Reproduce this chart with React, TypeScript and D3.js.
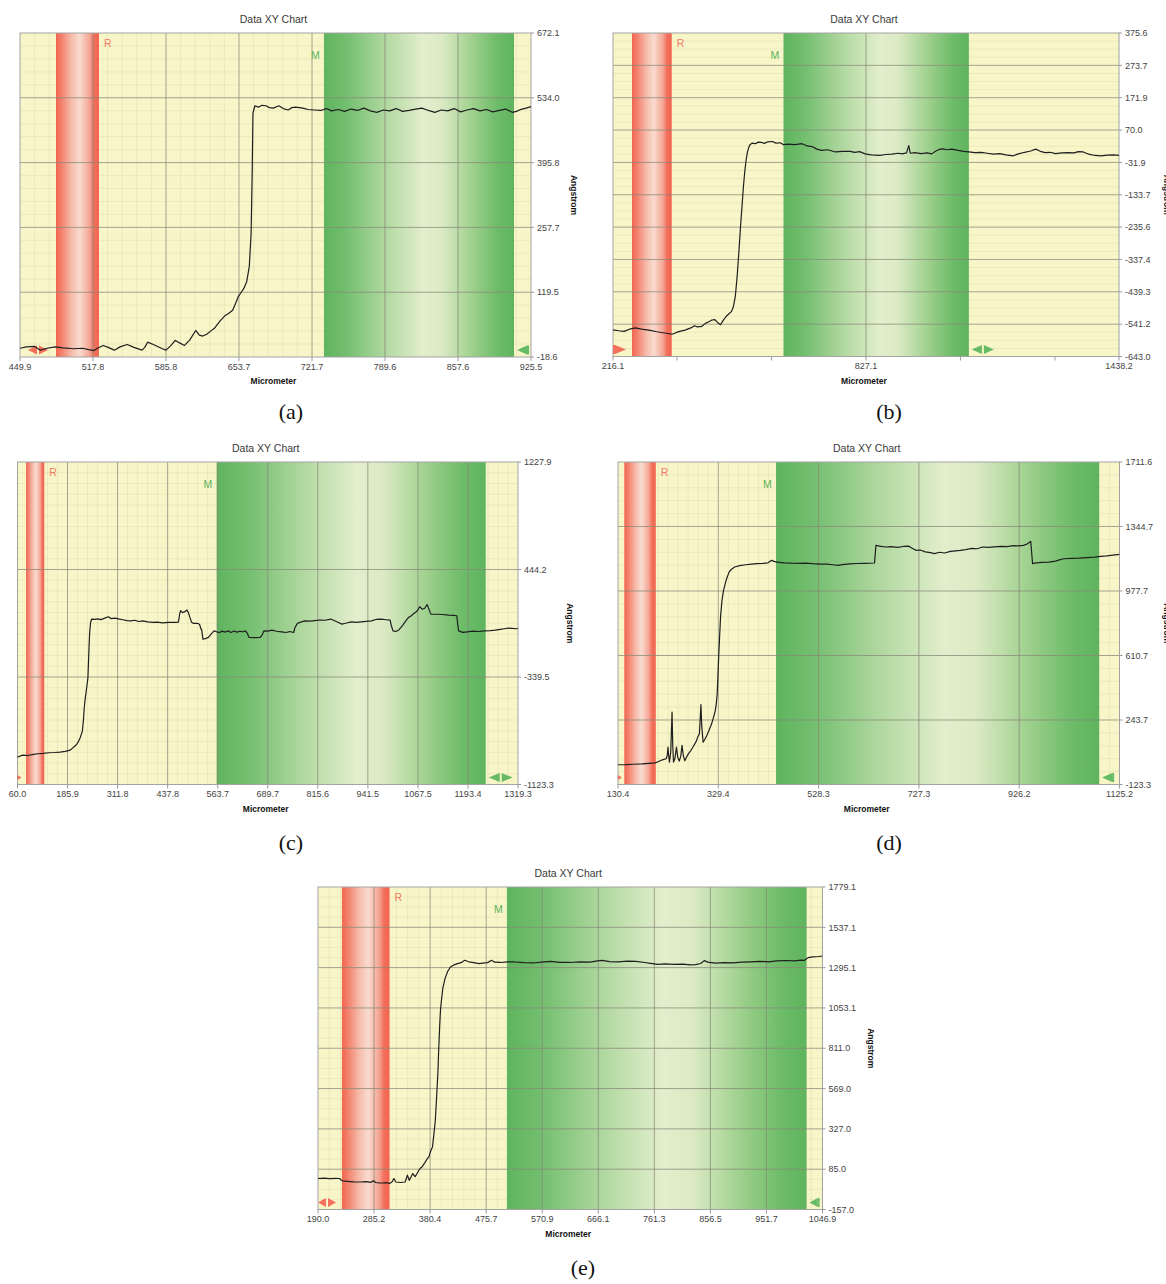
import React from "react";
import * as d3 from "d3";

// ---------------- data ----------------
const xTicksA = [449.9, 517.8, 585.8, 653.7, 721.7, 789.6, 857.6, 925.5];
const yTicksA = [-18.6, 119.5, 257.7, 395.8, 534.0, 672.1];
const refBandA = [483.4, 523.4];
const measBandA = [732.8, 909.7];
const profileA: [number, number][] = [
  [449.9, 0], [456, 3], [463.7, 4], [468.8, -4], [475, 0], [482.6, 3], [490, 1], [499.8, -1], [508, 0], [514, -3],
  [518.7, -5], [522, 0], [527.3, 6], [532, 2], [537.7, -4], [543, 3], [549.7, 8], [556, 2], [563.5, -4], [566, 2],
  [568.7, 13], [574, 8], [582.4, -1], [585.8, -4], [590, 5], [594.4, 17], [598, 12], [603, 6], [608, 18], [613.4, 38],
  [616.8, 28], [620, 26], [623.7, 30], [627, 36], [630.6, 42], [636, 58], [640.9, 70], [644, 74], [647.8, 81], [651, 98],
  [653, 110], [656, 120], [658.1, 127], [660.9, 142], [663.3, 174], [665, 245], [666.1, 387], [666.7, 501], [668.5, 517],
  [671.9, 514], [675, 518], [678.8, 517], [682, 513], [685.7, 512], [690.8, 517], [695, 511], [699.4, 508], [703, 513],
  [706.3, 514], [713.2, 512], [718, 509], [723.5, 508], [730, 507], [735, 511], [740, 506], [746, 509], [752, 505],
  [758, 510], [764, 507], [770, 512], [776, 506], [782, 503], [788, 508], [794, 506], [800, 511], [806, 505], [812, 507],
  [818, 510], [824, 512], [830, 507], [836, 503], [842, 508], [848, 506], [854, 511], [860, 504], [866, 508], [872, 511],
  [878, 506], [884, 509], [890, 504], [896, 507], [902, 510], [908, 503], [912, 505], [917, 510], [921, 512], [925.5, 515],
];

const xTicksB = [216.1, 827.1, 1438.2];
const xMinorTicksB = [370.7, 598.9, 1055.3, 1283.5];
const yTicksB = [-643.0, -541.2, -439.3, -337.4, -235.6, -133.7, -31.9, 70.0, 171.9, 273.7, 375.6];
const refBandB = [262, 357.9];
const measBandB = [627.9, 1075.6];
const profileB: [number, number][] = [
  [216.1, -559], [230, -562], [243, -564], [256, -557], [269.8, -553], [285, -557], [305.6, -561], [322, -565],
  [341.4, -569], [359.3, -573], [368, -568], [377.2, -564], [390, -560], [404, -553], [413, -546], [420, -550],
  [430.9, -548], [440, -538], [448.9, -533], [455, -528], [462.3, -527], [468, -535], [475.7, -543], [482, -530],
  [489.1, -517], [495, -510], [502.6, -501], [507, -485], [511.5, -454], [516, -390], [520.5, -307], [524, -235],
  [527.7, -170], [531, -110], [534, -65], [537.5, -25], [541.1, 3], [546, 22], [551.8, 29], [560, 27], [567, 32],
  [574.2, 31], [582, 28], [590, 33], [601.1, 34], [610, 29], [620, 30], [628, 24], [640, 26], [655, 24], [672.7, 27],
  [685, 20], [697, 18], [708.5, 10], [720, 6], [735, 8], [753.3, 1], [770, 3], [789.1, 3], [800, 0], [812, 2],
  [824.9, -5], [840, -8], [860.7, -10], [875, -7], [890, -6], [905, -3], [914.4, -5], [925, -2], [930.5, 21], [934, -3],
  [945, -1], [960, -4], [975, -2], [986, -5], [995, 3], [1004, 9], [1012.9, 11], [1022, 8], [1035, 10], [1050, 6],
  [1063, 3], [1075.6, 1], [1090, -1], [1105, 0], [1120, -3], [1135, -6], [1150, -4], [1165, -8], [1183, -11],
  [1195, -5], [1210, 0], [1225, 4], [1237, 10], [1248, 3], [1260, -1], [1272, 0], [1285, -4], [1300, -2], [1315, -1],
  [1330, -2], [1340, 2], [1352, 1], [1365, -6], [1380, -10], [1395, -11], [1410, -9], [1425, -8], [1438.2, -10],
];

const xTicksC = [60.0, 185.9, 311.8, 437.8, 563.7, 689.7, 815.6, 941.5, 1067.5, 1193.4, 1319.3];
const yTicksC = [-1123.3, -339.5, 444.2, 1227.9];
const refBandC = [81.4, 127.4];
const measBandC = [561, 1238.1];
const profileC: [number, number][] = [
  [60, -924], [67, -915], [74, -909], [85, -912], [97, -905], [111, -899], [125, -897], [139, -892], [153, -890],
  [167, -887], [180, -882], [190.6, -875], [197, -862], [204.6, -843], [210, -825], [213.9, -807], [218, -780],
  [223.2, -734], [226, -650], [228, -560], [230.7, -490], [234, -420], [237.2, -344], [239, -200], [240.5, -80],
  [241.9, -3], [244, 60], [246.6, 83], [255, 80], [262, 84], [270, 79], [278, 88], [288.5, 100], [296, 86], [305, 90],
  [316.5, 83], [325, 78], [335, 72], [344.5, 70], [355, 74], [365, 65], [375, 70], [388, 62], [400.5, 58], [412, 60],
  [425, 55], [440, 59], [456.4, 58], [465, 60], [468, 120], [470.4, 144], [475, 130], [480, 135], [486.3, 149],
  [490, 130], [493.8, 95], [498, 60], [503.1, 51], [512, 52], [518, 45], [521, 15], [523.6, 2], [526.5, -63], [533, -60],
  [540.4, -51], [546, -30], [554.4, -3], [561, -10], [568.4, -15], [575, -5], [583, -12], [590, -3], [597, -15],
  [605, -4], [612, -12], [620, -6], [627, -10], [633.6, -3], [638, -20], [642.9, -51], [656, -53], [670.9, -51],
  [676, -30], [680.2, -3], [690, -5], [700, 2], [712, -6], [724, -10], [736.3, -15], [745, -8], [755, -15], [758, 20],
  [764.3, 51], [772, 60], [783, 70], [795, 68], [808, 72], [820, 76], [834, 74], [848.2, 83], [858, 70], [866, 60],
  [876.2, 46], [888, 54], [900, 62], [913, 58], [925, 62], [937, 66], [950.8, 70], [962, 80], [975, 82], [988, 78],
  [997.5, 75], [1001, 30], [1004.9, -3], [1012, -8], [1020, 5], [1030, 40], [1037, 70], [1044, 95], [1050, 105],
  [1058, 125], [1065, 140], [1072, 173], [1078, 155], [1084, 160], [1090.7, 188], [1096, 150], [1100, 119],
  [1115, 118], [1130, 116], [1145, 112], [1158, 110], [1165.4, 107], [1168, 30], [1170, -3], [1180, -14], [1192, -10],
  [1205, -5], [1220, -8], [1235, -3], [1250, -2], [1262, 2], [1275, 8], [1285, 12], [1295.9, 17], [1305, 15],
  [1314.6, 12], [1319.3, 14],
];

const xTicksD = [130.4, 329.4, 528.3, 727.3, 926.2, 1125.2];
const yTicksD = [-123.3, 243.7, 610.7, 977.7, 1344.7, 1711.6];
const refBandD = [142.9, 205.3];
const measBandD = [443.9, 1084.8];
const profileD: [number, number][] = [
  [130.4, -11], [145, -10], [160, -8], [178, -6], [192, -3], [203.8, 0], [210, 6], [214.8, 13], [220, 18],
  [225.8, 23], [228, 40], [229.5, 89], [231, 40], [232.5, 4], [235, 60], [237.6, 289], [239, 100], [240.5, 4],
  [243, 20], [246.4, 89], [249, 30], [252, 10], [255, 40], [257.4, 99], [260, 40], [263, 12], [266, 30], [269.9, 51],
  [275, 70], [280.9, 99], [286, 125], [289, 150], [291.9, 165], [293.5, 250], [294.9, 332], [296.5, 210], [299.2, 118],
  [302, 130], [306.6, 156], [311, 185], [316.1, 222], [320, 260], [323.5, 298], [325.5, 340], [327.2, 393],
  [328.7, 500], [330.1, 602], [332, 720], [333.8, 829], [336.5, 920], [339.7, 981], [345, 1040], [350.7, 1085],
  [355, 1100], [361.7, 1114], [372, 1122], [383.7, 1127], [395, 1130], [405.7, 1133], [418, 1135], [428, 1138],
  [435.1, 1152], [440, 1146], [446.1, 1142], [460, 1138], [475, 1136], [490, 1135], [503, 1136], [515.8, 1133],
  [530, 1131], [545, 1130], [556, 1127], [567.2, 1123], [575, 1128], [590, 1132], [605, 1134], [620, 1135],
  [639.2, 1137], [642.1, 1237], [652, 1232], [662, 1228], [672, 1230], [685, 1226], [696, 1231], [706.7, 1233],
  [713, 1222], [721.4, 1209], [730, 1211], [740, 1200], [750, 1196], [758.1, 1190], [768, 1198], [778, 1194],
  [790, 1203], [800, 1206], [809.6, 1209], [820, 1213], [832, 1220], [843, 1218], [853.7, 1228], [865, 1226],
  [877, 1229], [890, 1232], [902, 1230], [915, 1236], [925, 1234], [934.4, 1237], [942, 1245], [949.1, 1260],
  [952.8, 1133], [960, 1138], [972, 1140], [985, 1142], [998, 1148], [1006, 1155], [1014.9, 1161], [1030, 1163],
  [1045, 1165], [1060, 1168], [1075, 1170], [1088.5, 1175], [1100, 1177], [1112, 1182], [1125.2, 1186],
];

const xTicksE = [190.0, 285.2, 380.4, 475.7, 570.9, 666.1, 761.3, 856.5, 951.7, 1046.9];
const yTicksE = [-157.0, 85.0, 327.0, 569.0, 811.0, 1053.1, 1295.1, 1537.1, 1779.1];
const refBandE = [230.7, 311.5];
const measBandE = [510.9, 1019.9];
const profileE: [number, number][] = [
  [190, 29], [200, 31], [210, 28], [220, 30], [226.5, 29], [231.3, 15], [240, 12], [250.8, 9], [262, 8], [272, 10],
  [280, 6], [284, 16], [288, 5], [293.3, 3], [300, 2], [306, 4], [311.5, -1], [316, 10], [318.8, 29], [322, 8],
  [330, 5], [338, 8], [341.9, 49], [345, 18], [351, 59], [355, 40], [360, 70], [363.2, 89], [367, 100], [372.3, 129],
  [375, 145], [378.4, 159], [381, 190], [384.5, 219], [387, 300], [389.3, 379], [391.5, 520], [393.6, 659], [395, 800],
  [396.6, 939], [398, 1040], [399.7, 1099], [402, 1170], [405.7, 1229], [410, 1270], [414.9, 1299], [420, 1310],
  [427, 1319], [433, 1325], [439.2, 1339], [446, 1330], [452, 1327], [463.5, 1319], [470, 1322], [478, 1325],
  [484.8, 1339], [490, 1328], [500, 1326], [512, 1330], [524.3, 1329], [540, 1325], [555, 1323], [570, 1328],
  [585, 1333], [600, 1327], [618, 1326], [635, 1330], [652, 1328], [665, 1336], [673.1, 1339], [685, 1331],
  [700, 1330], [715, 1334], [730, 1333], [745, 1326], [755, 1321], [767.3, 1315], [780, 1318], [795, 1315],
  [810, 1316], [822, 1312], [831.1, 1313], [840, 1320], [846, 1337], [852, 1328], [865, 1322], [880, 1325],
  [895, 1324], [910, 1328], [925, 1330], [940, 1333], [955, 1330], [970, 1336], [985, 1338], [1000, 1336],
  [1010, 1340], [1016.4, 1339], [1022.5, 1355], [1030, 1360], [1040, 1362], [1046.9, 1365],
];

const captions = ["(a)", "(b)", "(c)", "(d)", "(e)"];
const chartTitle = "Data XY Chart";
const xAxisTitle = "Micrometer";
const yAxisTitle = "Angstrom";

// ---------------- layout / style ----------------
type Box = { l: number; t: number; r: number; b: number };
type Spec = {
  id: string;
  data: [number, number][];
  xTicks: number[];
  yTicks: number[];
  xMinorTicks: number[];
  refBand: number[];
  measBand: number[];
  box: Box;
  minorX: number;
  minorY: number;
  caption: string;
  capX: number;
  capY: number;
  yTitleOff: number;
  red: { kind: string; dx: number; w: number };
  green: { kind: string; w: number };
};

const specs: Spec[] = [
  { id: "a", data: profileA, xTicks: xTicksA, yTicks: yTicksA, xMinorTicks: [], refBand: refBandA, measBand: measBandA,
    box: { l: 20, t: 33, r: 531, b: 357 }, minorX: 5, minorY: 5, caption: captions[0], capX: 291, capY: 419, yTitleOff: 40,
    red: { kind: "lr", dx: 8, w: 9 }, green: { kind: "lbar", w: 10 } },
  { id: "b", data: profileB, xTicks: xTicksB, yTicks: yTicksB, xMinorTicks: xMinorTicksB, refBand: refBandB, measBand: measBandB,
    box: { l: 613, t: 33, r: 1119, b: 356.5 }, minorX: 0, minorY: 4, caption: captions[1], capX: 889, capY: 419, yTitleOff: 45,
    red: { kind: "barR", dx: 0, w: 11 }, green: { kind: "lr", w: 10 } },
  { id: "c", data: profileC, xTicks: xTicksC, yTicks: yTicksC, xMinorTicks: [], refBand: refBandC, measBand: measBandC,
    box: { l: 17.5, t: 462, r: 518, b: 784.5 }, minorX: 5, minorY: 10, caption: captions[2], capX: 291, capY: 850, yTitleOff: 49,
    red: { kind: "sliver", dx: 0, w: 4 }, green: { kind: "lr", w: 11 } },
  { id: "d", data: profileD, xTicks: xTicksD, yTicks: yTicksD, xMinorTicks: [], refBand: refBandD, measBand: measBandD,
    box: { l: 618, t: 462, r: 1119.5, b: 784.5 }, minorX: 10, minorY: 5, caption: captions[3], capX: 889, capY: 850, yTitleOff: 44,
    red: { kind: "sliver", dx: 0, w: 4 }, green: { kind: "lbar", w: 10 } },
  { id: "e", data: profileE, xTicks: xTicksE, yTicks: yTicksE, xMinorTicks: [], refBand: refBandE, measBand: measBandE,
    box: { l: 318, t: 887, r: 822.5, b: 1209.5 }, minorX: 5, minorY: 4, caption: captions[4], capX: 583, capY: 1275, yTitleOff: 45,
    red: { kind: "lr", dx: 0, w: 8 }, green: { kind: "lbar", w: 8 } },
];

const SANS = "'Liberation Sans', Arial, Helvetica, sans-serif";
const SERIF = "'Liberation Serif', 'DejaVu Serif', 'Times New Roman', serif";
const BG = "#f8f6c9";
const RED = "#f2705c";
const GREEN = "#66ba64";

function triPath(tip: number, base: number, yc: number, h: number) {
  return `M${base},${yc - h / 2}L${base},${yc + h / 2}L${tip},${yc}Z`;
}

function Marker({ kind, x0, w, yc, color }: { kind: string; x0: number; w: number; yc: number; color: string }) {
  const h = 9;
  if (kind === "lr") {
    return (
      <g fill={color}>
        <path d={triPath(x0, x0 + w, yc, h)} />
        <path d={triPath(x0 + 2 * w + 2, x0 + w + 2, yc, h)} />
      </g>
    );
  }
  if (kind === "barR") {
    return (
      <g fill={color}>
        <rect x={x0} y={yc - h / 2} width={2} height={h} />
        <path d={triPath(x0 + 2 + w, x0 + 2, yc, h)} />
      </g>
    );
  }
  if (kind === "lbar") {
    return (
      <g fill={color}>
        <path d={triPath(x0, x0 + w, yc, h)} />
        <rect x={x0 + w} y={yc - h / 2} width={2} height={h} />
      </g>
    );
  }
  return (
    <g fill={color}>
      <path d={triPath(x0 + w, x0, yc, 5)} />
    </g>
  );
}

function subdivide(ticks: number[], n: number) {
  const out: number[] = [];
  if (n < 2) return out;
  for (let i = 0; i < ticks.length - 1; i++) {
    const a = ticks[i], b = ticks[i + 1];
    for (let k = 1; k < n; k++) out.push(a + ((b - a) * k) / n);
  }
  return out;
}

function Panel({ s }: { s: Spec }) {
  const { box } = s;
  const x = d3.scaleLinear().domain([s.xTicks[0], s.xTicks[s.xTicks.length - 1]]).range([box.l, box.r]);
  const y = d3.scaleLinear().domain([s.yTicks[0], s.yTicks[s.yTicks.length - 1]]).range([box.b, box.t]);
  const line = d3.line<[number, number]>().x((d) => x(d[0])).y((d) => y(d[1]));
  const minorXs = subdivide(s.xTicks, s.minorX);
  const minorYs = subdivide(s.yTicks, s.minorY);
  const fmt = (v: number) => v.toFixed(1);
  const cx = (box.l + box.r) / 2 - 2;
  const cy = (box.t + box.b) / 2;
  const rx0 = x(s.refBand[0]), rx1 = x(s.refBand[1]);
  const gx0 = x(s.measBand[0]), gx1 = x(s.measBand[1]);
  const myc = box.b - 7;
  return (
    <g>
      <defs>
        <linearGradient id={`red-${s.id}`} x1="0" x2="1" y1="0" y2="0">
          <stop offset="0" stopColor="#f26650" />
          <stop offset="0.12" stopColor="#f37f6a" />
          <stop offset="0.35" stopColor="#f6b9a8" />
          <stop offset="0.55" stopColor="#f8dccf" />
          <stop offset="0.78" stopColor="#f5a594" />
          <stop offset="0.88" stopColor="#f2705c" />
          <stop offset="1" stopColor="#f26450" />
        </linearGradient>
        <linearGradient id={`green-${s.id}`} x1="0" x2="1" y1="0" y2="0">
          <stop offset="0" stopColor="#5fb45e" />
          <stop offset="0.12" stopColor="#74bf70" />
          <stop offset="0.33" stopColor="#b3d9a2" />
          <stop offset="0.52" stopColor="#e2eecc" />
          <stop offset="0.62" stopColor="#dbeac4" />
          <stop offset="0.8" stopColor="#97cd87" />
          <stop offset="0.92" stopColor="#6bbb68" />
          <stop offset="1" stopColor="#60b45e" />
        </linearGradient>
        <clipPath id={`clip-${s.id}`}>
          <rect x={box.l} y={box.t} width={box.r - box.l} height={box.b - box.t} />
        </clipPath>
      </defs>

      <text x={cx} y={box.t - 10} textAnchor="middle" fontFamily={SANS} fontSize={10.5} fill="#3a3a3a">
        {chartTitle}
      </text>

      <rect x={box.l} y={box.t} width={box.r - box.l} height={box.b - box.t} fill={BG} />

      <g stroke="#bdb88a" strokeOpacity={0.2} strokeWidth={1}>
        {minorXs.map((v, i) => (
          <line key={`mx${i}`} x1={x(v)} x2={x(v)} y1={box.t} y2={box.b} />
        ))}
        {minorYs.map((v, i) => (
          <line key={`my${i}`} x1={box.l} x2={box.r} y1={y(v)} y2={y(v)} />
        ))}
      </g>

      <rect x={rx0} y={box.t} width={rx1 - rx0} height={box.b - box.t} fill={`url(#red-${s.id})`} />
      <rect x={gx0} y={box.t} width={gx1 - gx0} height={box.b - box.t} fill={`url(#green-${s.id})`} />

      <g stroke="#888878" strokeOpacity={0.75} strokeWidth={1}>
        {s.xTicks.slice(1, -1).map((v, i) => (
          <line key={`gx${i}`} x1={x(v)} x2={x(v)} y1={box.t} y2={box.b} />
        ))}
        {s.yTicks.slice(1, -1).map((v, i) => (
          <line key={`gy${i}`} x1={box.l} x2={box.r} y1={y(v)} y2={y(v)} />
        ))}
      </g>

      <rect x={box.l} y={box.t} width={box.r - box.l} height={box.b - box.t} fill="none" stroke="#a3a3a3" strokeWidth={1} />

      <g stroke="#9a9a9a" strokeWidth={1}>
        {s.xTicks.concat(s.xMinorTicks).map((v, i) => (
          <line key={`tx${i}`} x1={x(v)} x2={x(v)} y1={box.b} y2={box.b + 4} />
        ))}
        {s.yTicks.map((v, i) => (
          <line key={`ty${i}`} x1={box.r} x2={box.r + 3} y1={y(v)} y2={y(v)} />
        ))}
      </g>

      <text x={rx1 + 5} y={box.t + 14} fontFamily={SANS} fontSize={10.5} fill="#f07a68">R</text>
      <text x={gx0 - 13} y={box.t + 26} fontFamily={SANS} fontSize={10.5} fill="#5cb45a">M</text>

      <Marker kind={s.red.kind} x0={box.l + s.red.dx} w={s.red.w} yc={myc} color={RED} />
      <Marker kind={s.green.kind} x0={gx1 + 3} w={s.green.w} yc={myc} color={GREEN} />

      <path d={line(s.data) || ""} fill="none" stroke="#1e1e1e" strokeWidth={1.2} strokeLinejoin="round" clipPath={`url(#clip-${s.id})`} />

      <g fontFamily={SANS} fontSize={9} fill="#444">
        {s.xTicks.map((v, i) => (
          <text key={`lx${i}`} x={x(v)} y={box.b + 12.5} textAnchor="middle">{fmt(v)}</text>
        ))}
        {s.yTicks.map((v, i) => (
          <text key={`ly${i}`} x={box.r + 6} y={y(v) + 3.2} textAnchor="start">{fmt(v)}</text>
        ))}
      </g>

      <text x={cx} y={box.b + 27} textAnchor="middle" fontFamily={SANS} fontSize={8.5} fontWeight="bold" fill="#111">
        {xAxisTitle}
      </text>
      <text transform={`translate(${box.r + s.yTitleOff},${cy}) rotate(90)`} textAnchor="middle" fontFamily={SANS}
        fontSize={8.5} fontWeight="bold" fill="#111">
        {yAxisTitle}
      </text>

      <text x={s.capX} y={s.capY} textAnchor="middle" fontFamily={SERIF} fontSize={22} fill="#111">
        {s.caption}
      </text>
    </g>
  );
}

export default function App() {
  return (
    <svg width={1166} height={1284} style={{ position: "absolute", left: 0, top: 0, display: "block" }}>
      <rect x={0} y={0} width={1166} height={1284} fill="#ffffff" />
      {specs.map((s) => (
        <Panel key={s.id} s={s} />
      ))}
    </svg>
  );
}
